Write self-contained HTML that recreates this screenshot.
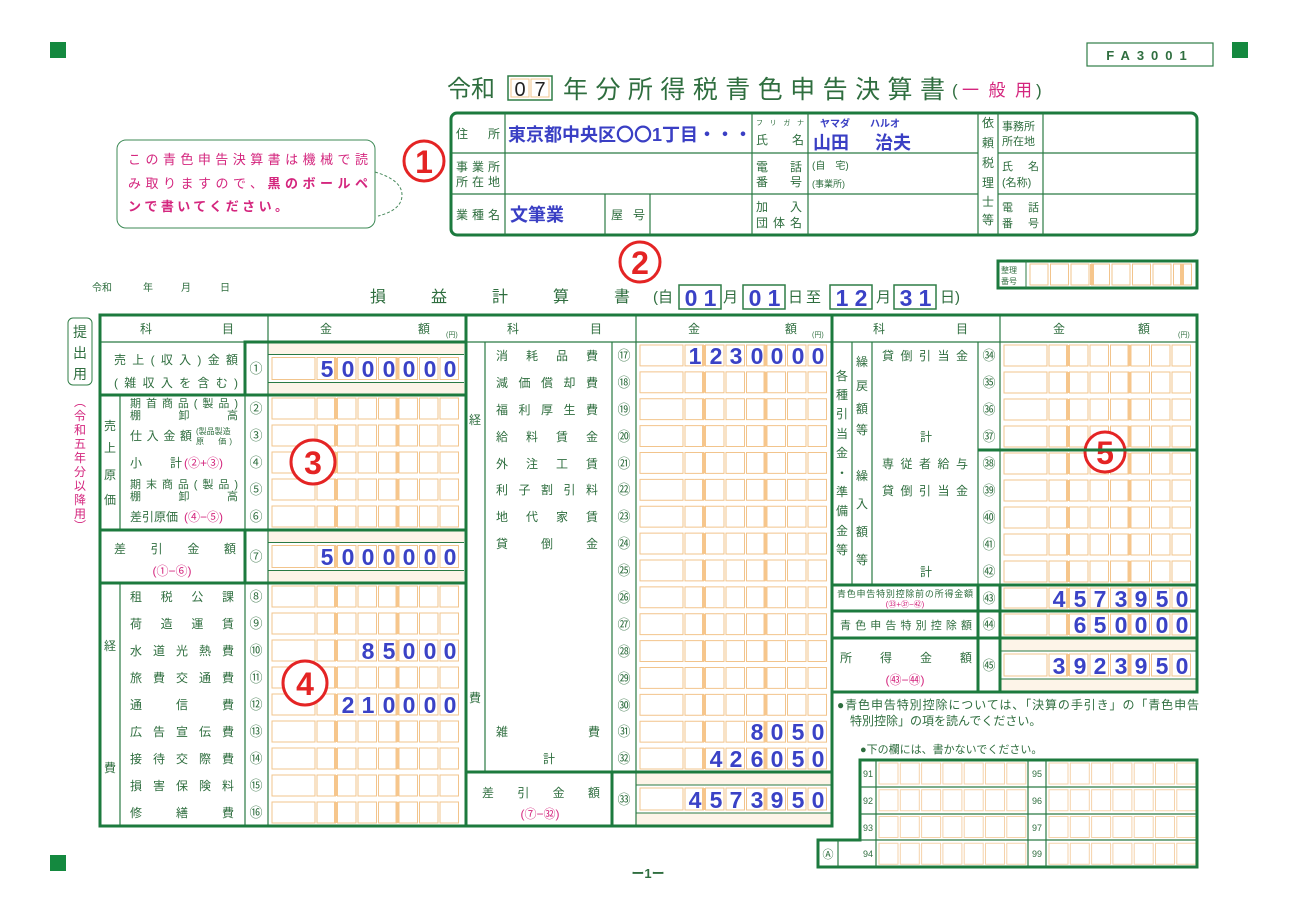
<!DOCTYPE html>
<html><head><meta charset="utf-8">
<style>
html,body{margin:0;padding:0;background:#fff;}
svg{display:block;}
text{font-family:"Liberation Sans","Noto Sans CJK JP",sans-serif;fill:#2f6e3f;}
.g{fill:#2f6e3f;font-size:12px;}
.pk{fill:#d4267e;}
.bl{fill:#3a3fc4;font-weight:bold;}
.dg{fill:#3a42c6;font-size:23px;font-weight:bold;text-anchor:middle;}
.red{fill:#e42424;font-weight:bold;}
.n{font-size:13px;text-anchor:middle;}
</style></head><body>
<svg id="s" width="1297" height="910" viewBox="0 0 1297 910" xmlns="http://www.w3.org/2000/svg">
<g id="cells"></g>
<rect x="50" y="42" width="16" height="16" fill="#14893f"/>
<rect x="1232" y="42" width="16" height="16" fill="#14893f"/>
<rect x="50" y="855" width="16" height="16" fill="#14893f"/>
<rect x="1087" y="43" width="126" height="23" fill="none" stroke="#2f7d46" stroke-width="1.2"/>
<text x="1150" y="60" font-size="13" text-anchor="middle" letter-spacing="7" font-weight="bold">FA3001</text>
<text x="447" y="97" font-size="24">令和</text>
<rect x="508" y="76" width="44" height="24" fill="#fff" stroke="#2f7d46" stroke-width="1.5"/>
<rect x="511" y="79" width="18" height="18" fill="none" stroke="#f2c48c"/>
<rect x="531" y="79" width="18" height="18" fill="none" stroke="#f2c48c"/>
<text x="520" y="96" font-size="20" text-anchor="middle" style="fill:#222">0</text>
<text x="540" y="96" font-size="20" text-anchor="middle" style="fill:#222">7</text>
<text x="563" y="98" font-size="25" textLength="382" lengthAdjust="spacing">年分所得税青色申告決算書</text>
<text x="952" y="96" font-size="17">(</text><text x="962" y="96" font-size="17" class="pk" textLength="70" lengthAdjust="spacing">一 般 用</text><text x="1036" y="96" font-size="17">)</text>

<rect x="451" y="113" width="746" height="122" rx="6" fill="none" stroke="#1c7a3e" stroke-width="3"/>
<g stroke="#2a7a44" stroke-width="1.2">
<line x1="451" y1="153" x2="978" y2="153"/><line x1="451" y1="194" x2="978" y2="194"/>
<line x1="998" y1="153" x2="1197" y2="153"/><line x1="998" y1="194" x2="1197" y2="194"/>
<line x1="505" y1="113" x2="505" y2="235"/><line x1="752" y1="113" x2="752" y2="235"/>
<line x1="808" y1="113" x2="808" y2="235"/><line x1="978" y1="113" x2="978" y2="235"/>
<line x1="998" y1="113" x2="998" y2="235"/><line x1="1043" y1="113" x2="1043" y2="235"/>
<line x1="605" y1="194" x2="605" y2="235"/><line x1="650" y1="194" x2="650" y2="235"/>
</g>
<text x="456" y="138" class="g" textLength="44" lengthAdjust="spacing">住　所</text>
<text x="508" y="141" font-size="18" class="bl">東京都中央区〇〇1丁目・・・</text>
<text x="756" y="125" font-size="7" textLength="48" lengthAdjust="spacing">フリガナ</text>
<text x="756" y="144" class="g" textLength="48" lengthAdjust="spacing">氏　名</text>
<text x="820" y="127" font-size="10" class="bl">ヤマダ</text>
<text x="870" y="127" font-size="10" class="bl">ハルオ</text>
<text x="813" y="149" font-size="18" class="bl">山田</text>
<text x="875" y="149" font-size="18" class="bl">治夫</text>
<text x="456" y="171" class="g" textLength="44" lengthAdjust="spacing">事業所</text>
<text x="456" y="186" class="g" textLength="44" lengthAdjust="spacing">所在地</text>
<text x="756" y="171" class="g" textLength="46" lengthAdjust="spacing">電　話</text>
<text x="756" y="186" class="g" textLength="46" lengthAdjust="spacing">番　号</text>
<text x="812" y="169" font-size="10">(自　宅)</text>
<text x="812" y="187" font-size="9">(事業所)</text>
<text x="456" y="219" class="g" textLength="44" lengthAdjust="spacing">業種名</text>
<text x="510" y="221" font-size="18" class="bl">文筆業</text>
<text x="611" y="219" class="g" textLength="34" lengthAdjust="spacing">屋　号</text>
<text x="756" y="211" class="g" textLength="46" lengthAdjust="spacing">加　入</text>
<text x="756" y="227" class="g" textLength="46" lengthAdjust="spacing">団体名</text>
<g font-size="12" text-anchor="middle"><text x="988" y="127">依</text><text x="988" y="147">頼</text><text x="988" y="167">税</text><text x="988" y="187">理</text><text x="988" y="206">士</text><text x="988" y="224">等</text></g>
<text x="1002" y="130" font-size="11">事務所</text><text x="1002" y="145" font-size="11">所在地</text>
<text x="1002" y="170" font-size="11" textLength="37" lengthAdjust="spacing">氏　名</text><text x="1002" y="186" font-size="11">(名称)</text>
<text x="1002" y="211" font-size="11" textLength="37" lengthAdjust="spacing">電　話</text><text x="1002" y="227" font-size="11" textLength="37" lengthAdjust="spacing">番　号</text>

<rect x="117" y="140" width="258" height="88" rx="9" fill="#fff" stroke="#3d8a56" stroke-width="1"/>
<path d="M375 172 Q402 180 402 195 Q402 210 378 216" fill="none" stroke="#4a8a5e" stroke-dasharray="3,2"/>
<text x="128" y="164" font-size="13" class="pk" textLength="240" lengthAdjust="spacing">この青色申告決算書は機械で読</text>
<text x="128" y="188" font-size="13" class="pk" textLength="240" lengthAdjust="spacing">み取りますので、<tspan font-weight="bold">黒のボールペ</tspan></text>
<text x="128" y="211" font-size="13" class="pk" font-weight="bold" textLength="160" lengthAdjust="spacing">ンで書いてください。</text>

<g fill="#fff" stroke="#e42424" stroke-width="3">
<circle cx="424" cy="161" r="20"/><circle cx="640" cy="262" r="20"/>
<circle cx="313" cy="462" r="22"/><circle cx="305" cy="683" r="22"/><circle cx="1105" cy="452" r="20"/>
</g>
<g class="red" font-size="32" text-anchor="middle">
<text x="424" y="173" class="red">1</text><text x="640" y="274" class="red">2</text>
<text x="313" y="474" class="red">3</text><text x="305" y="695" class="red">4</text><text x="1105" y="464" class="red">5</text>
</g>

<text x="92" y="291" font-size="10">令和</text><text x="143" y="291" font-size="10">年</text><text x="181" y="291" font-size="10">月</text><text x="220" y="291" font-size="10">日</text>
<text x="370" y="302" font-size="16" textLength="260" lengthAdjust="spacing">損益計算書</text>
<text x="653" y="302" font-size="15">(自</text>
<text x="723" y="302" font-size="15">月</text><text x="788" y="302" font-size="15">日</text><text x="806" y="302" font-size="15">至</text>
<text x="876" y="302" font-size="15">月</text><text x="940" y="302" font-size="15">日)</text>
<g fill="#fff" stroke="#2f7d46" stroke-width="1.5">
<rect x="679" y="285" width="42" height="24"/><rect x="743" y="285" width="42" height="24"/>
<rect x="830" y="285" width="42" height="24"/><rect x="894" y="285" width="42" height="24"/>
</g>
<g>
<text x="691" y="306" class="dg">0</text><text x="710" y="306" class="dg">1</text>
<text x="755" y="306" class="dg">0</text><text x="774" y="306" class="dg">1</text>
<text x="842" y="306" class="dg">1</text><text x="861" y="306" class="dg">2</text>
<text x="906" y="306" class="dg">3</text><text x="925" y="306" class="dg">1</text>
</g>
<rect x="998" y="261" width="199" height="27" fill="none" stroke="#1c7a3e" stroke-width="3"/>
<line x1="1026" y1="261" x2="1026" y2="288" stroke="#2f7d46"/>
<text x="1001" y="273" font-size="8">整理</text><text x="1001" y="284" font-size="8">番号</text>

<rect x="68" y="318" width="24" height="67" rx="5" fill="none" stroke="#2f7d46"/>
<g font-size="14" text-anchor="middle"><text x="80" y="337">提</text><text x="80" y="358">出</text><text x="80" y="379">用</text></g>
<g font-size="12" text-anchor="middle"><text x="80" y="406" class="pk">︵</text><text x="80" y="420" class="pk">令</text><text x="80" y="434" class="pk">和</text><text x="80" y="448" class="pk">五</text><text x="80" y="462" class="pk">年</text><text x="80" y="476" class="pk">分</text><text x="80" y="490" class="pk">以</text><text x="80" y="504" class="pk">降</text><text x="80" y="518" class="pk">用</text><text x="80" y="530" class="pk">︶</text></g>

<g stroke="#2a7a44" stroke-width="1.2" fill="none">
<line x1="100" y1="342" x2="1197" y2="342"/>
<line x1="245" y1="342" x2="245" y2="826"/><line x1="268" y1="315" x2="268" y2="826"/>
<line x1="612" y1="342" x2="612" y2="826"/><line x1="636" y1="315" x2="636" y2="826"/>
<line x1="978" y1="342" x2="978" y2="692"/><line x1="1000" y1="315" x2="1000" y2="692"/>
<line x1="120" y1="395" x2="120" y2="530"/><line x1="120" y1="583" x2="120" y2="826"/>
<line x1="485" y1="342" x2="485" y2="772"/>
<line x1="852" y1="342" x2="852" y2="585"/><line x1="872" y1="342" x2="872" y2="585"/>
</g>
<g stroke="#1c7a3e" stroke-width="3" fill="none">
<rect x="100" y="315" width="732" height="511"/>
<rect x="832" y="315" width="365" height="377"/>
<line x1="466" y1="315" x2="466" y2="826"/>
<rect x="245" y="342" width="221" height="53"/>
<line x1="100" y1="395" x2="466" y2="395"/>
<line x1="100" y1="530" x2="466" y2="530"/><line x1="100" y1="583" x2="466" y2="583"/>
<rect x="245" y="530" width="221" height="53"/>
<line x1="466" y1="772" x2="832" y2="772"/><rect x="612" y="772" width="220" height="54"/>
<line x1="978" y1="450" x2="1197" y2="450"/>
<line x1="832" y1="585" x2="1197" y2="585"/><line x1="832" y1="611" x2="1197" y2="611"/><line x1="832" y1="638" x2="1197" y2="638"/>
<line x1="978" y1="585" x2="978" y2="692"/><line x1="1000" y1="585" x2="1000" y2="692"/>
</g>

<g font-size="12">
<text x="140" y="333">科</text><text x="222" y="333">目</text><text x="320" y="333">金</text><text x="418" y="333">額</text><text x="446" y="337" font-size="7">(円)</text>
<text x="507" y="333">科</text><text x="590" y="333">目</text><text x="688" y="333">金</text><text x="785" y="333">額</text><text x="812" y="337" font-size="7">(円)</text>
<text x="873" y="333">科</text><text x="956" y="333">目</text><text x="1053" y="333">金</text><text x="1138" y="333">額</text><text x="1178" y="337" font-size="7">(円)</text>
</g>

<g font-size="12">
<text x="114" y="364" textLength="124" lengthAdjust="spacing">売上(収入)金額</text>
<text x="114" y="387" textLength="124" lengthAdjust="spacing">(雑収入を含む)</text>
<text x="130" y="407" font-size="11" textLength="108" lengthAdjust="spacing">期首商品(製品)</text>
<text x="130" y="419" font-size="11" textLength="108" lengthAdjust="spacing">棚卸高</text>
<text x="130" y="440" textLength="62" lengthAdjust="spacing">仕入金額</text>
<text x="196" y="434" font-size="8">(製品製造</text><text x="196" y="444" font-size="8" textLength="36" lengthAdjust="spacing">原　価)</text>
<text x="130" y="467">小</text><text x="170" y="467">計</text><text x="184" y="467" class="pk">(②+③)</text>
<text x="130" y="488" font-size="11" textLength="108" lengthAdjust="spacing">期末商品(製品)</text>
<text x="130" y="500" font-size="11" textLength="108" lengthAdjust="spacing">棚卸高</text>
<text x="130" y="521">差引原価</text><text x="184" y="521" class="pk">(④−⑤)</text>
<text x="114" y="553" textLength="122" lengthAdjust="spacing">差引金額</text>
<text x="172" y="575" text-anchor="middle" class="pk">(①−⑥)</text>
<text x="130" y="601" textLength="104" lengthAdjust="spacing">租税公課</text>
<text x="130" y="628" textLength="104" lengthAdjust="spacing">荷造運賃</text>
<text x="130" y="655" textLength="104" lengthAdjust="spacing">水道光熱費</text>
<text x="130" y="682" textLength="104" lengthAdjust="spacing">旅費交通費</text>
<text x="130" y="709" textLength="104" lengthAdjust="spacing">通信費</text>
<text x="130" y="736" textLength="104" lengthAdjust="spacing">広告宣伝費</text>
<text x="130" y="763" textLength="104" lengthAdjust="spacing">接待交際費</text>
<text x="130" y="790" textLength="104" lengthAdjust="spacing">損害保険料</text>
<text x="130" y="817" textLength="104" lengthAdjust="spacing">修繕費</text>
<g text-anchor="middle"><text x="110" y="430">売</text><text x="110" y="452">上</text><text x="110" y="479">原</text><text x="110" y="504">価</text>
<text x="110" y="650">経</text><text x="110" y="772">費</text>
<text x="475" y="424">経</text><text x="475" y="702">費</text></g>
</g>
<g class="n">
<text x="256" y="373">①</text><text x="256" y="413">②</text><text x="256" y="440">③</text><text x="256" y="467">④</text><text x="256" y="494">⑤</text><text x="256" y="521">⑥</text><text x="256" y="561">⑦</text>
<text x="256" y="601">⑧</text><text x="256" y="628">⑨</text><text x="256" y="655">⑩</text><text x="256" y="682">⑪</text><text x="256" y="709">⑫</text><text x="256" y="736">⑬</text><text x="256" y="763">⑭</text><text x="256" y="790">⑮</text><text x="256" y="817">⑯</text>
</g>

<g font-size="12">
<text x="496" y="360" textLength="102" lengthAdjust="spacing">消耗品費</text>
<text x="496" y="387" textLength="102" lengthAdjust="spacing">減価償却費</text>
<text x="496" y="414" textLength="102" lengthAdjust="spacing">福利厚生費</text>
<text x="496" y="441" textLength="102" lengthAdjust="spacing">給料賃金</text>
<text x="496" y="468" textLength="102" lengthAdjust="spacing">外注工賃</text>
<text x="496" y="494" textLength="102" lengthAdjust="spacing">利子割引料</text>
<text x="496" y="521" textLength="102" lengthAdjust="spacing">地代家賃</text>
<text x="496" y="548" textLength="102" lengthAdjust="spacing">貸倒金</text>
<text x="496" y="736">雑</text><text x="588" y="736">費</text>
<text x="543" y="763">計</text>
<text x="482" y="797" textLength="118" lengthAdjust="spacing">差引金額</text>
<text x="540" y="818" text-anchor="middle" class="pk">(⑦−㉜)</text>
</g>
<g class="n">
<text x="624" y="360">⑰</text><text x="624" y="387">⑱</text><text x="624" y="414">⑲</text><text x="624" y="441">⑳</text><text x="624" y="468">㉑</text><text x="624" y="494">㉒</text><text x="624" y="521">㉓</text><text x="624" y="548">㉔</text>
<text x="624" y="575">㉕</text><text x="624" y="602">㉖</text><text x="624" y="629">㉗</text><text x="624" y="656">㉘</text><text x="624" y="683">㉙</text><text x="624" y="710">㉚</text><text x="624" y="736">㉛</text><text x="624" y="763">㉜</text><text x="624" y="804">㉝</text>
</g>

<g font-size="12">
<text x="882" y="360" textLength="86" lengthAdjust="spacing">貸倒引当金</text>
<text x="920" y="441">計</text>
<text x="882" y="468" textLength="86" lengthAdjust="spacing">専従者給与</text>
<text x="882" y="495" textLength="86" lengthAdjust="spacing">貸倒引当金</text>
<text x="920" y="576">計</text>
<text x="837" y="597" font-size="9" textLength="136" lengthAdjust="spacing">青色申告特別控除前の所得金額</text>
<text x="905" y="607" font-size="8" text-anchor="middle" class="pk">(㉝+㊲−㊷)</text>
<text x="840" y="629" font-size="11" textLength="132" lengthAdjust="spacing">青色申告特別控除額</text>
<text x="840" y="662" textLength="132" lengthAdjust="spacing">所得金額</text>
<text x="905" y="684" text-anchor="middle" class="pk">(㊸−㊹)</text>
<g text-anchor="middle">
<text x="842" y="380">各</text><text x="842" y="399">種</text><text x="842" y="418">引</text><text x="842" y="438">当</text><text x="842" y="457">金</text><text x="842" y="477">・</text><text x="842" y="496">準</text><text x="842" y="515">備</text><text x="842" y="535">金</text><text x="842" y="554">等</text>
<text x="862" y="366">繰</text><text x="862" y="390">戻</text><text x="862" y="413">額</text><text x="862" y="434">等</text>
<text x="862" y="480">繰</text><text x="862" y="508">入</text><text x="862" y="536">額</text><text x="862" y="564">等</text>
</g>
</g>
<g class="n">
<text x="989" y="360">㉞</text><text x="989" y="387">㉟</text><text x="989" y="414">㊱</text><text x="989" y="441">㊲</text><text x="989" y="468">㊳</text><text x="989" y="495">㊴</text><text x="989" y="522">㊵</text><text x="989" y="549">㊶</text><text x="989" y="576">㊷</text>
<text x="989" y="603">㊸</text><text x="989" y="629">㊹</text><text x="989" y="670">㊺</text>
</g>

<g>
<text class="dg" x="327 348 368 389 409 430 450" y="377">5000000</text>
<text class="dg" x="327 348 368 389 409 430 450" y="565">5000000</text>
<text class="dg" x="368 389 409 430 450" y="659">85000</text>
<text class="dg" x="348 368 389 409 430 450" y="713">210000</text>
<text class="dg" x="695 716 736 757 777 798 818" y="364">1230000</text>
<text class="dg" x="757 777 798 818" y="740">8050</text>
<text class="dg" x="716 736 757 777 798 818" y="767">426050</text>
<text class="dg" x="695 716 736 757 777 798 818" y="808">4573950</text>
<text class="dg" x="1059 1080 1100 1121 1141 1162 1182" y="607">4573950</text>
<text class="dg" x="1080 1100 1121 1141 1162 1182" y="633">650000</text>
<text class="dg" x="1059 1080 1100 1121 1141 1162 1182" y="674">3923950</text>
</g>

<text x="837" y="709" font-size="12" textLength="362" lengthAdjust="spacing">●青色申告特別控除については、「決算の手引き」の「青色申告</text>
<text x="850" y="725" font-size="12">特別控除」の項を読んでください。</text>
<text x="860" y="753" font-size="11">●下の欄には、書かないでください。</text>
<g fill="none" stroke="#1c7a3e" stroke-width="3">
<path d="M860 760 H1197 V867 H818 V840 H860 Z"/>
</g>
<g stroke="#2a7a44" stroke-width="1.2">
<line x1="860" y1="787" x2="1197" y2="787"/><line x1="860" y1="814" x2="1197" y2="814"/><line x1="860" y1="840" x2="1197" y2="840"/>
<line x1="876" y1="760" x2="876" y2="867"/><line x1="1028" y1="760" x2="1028" y2="867"/><line x1="1046" y1="760" x2="1046" y2="867"/>
<line x1="838" y1="840" x2="838" y2="867"/>
</g>
<g font-size="9" text-anchor="middle">
<text x="868" y="777">91</text><text x="868" y="804">92</text><text x="868" y="831">93</text><text x="868" y="857">94</text>
<text x="1037" y="777">95</text><text x="1037" y="804">96</text><text x="1037" y="831">97</text><text x="1037" y="857">99</text>
<text x="828" y="858" font-size="11">Ⓐ</text>
</g>
<text x="648" y="878" font-size="13" text-anchor="middle" font-weight="bold">ー1ー</text>
</svg>
<script>
(function(){
var NS="http://www.w3.org/2000/svg",g=document.getElementById("cells");
function r(x,y,w,h,f,s){var e=document.createElementNS(NS,"rect");e.setAttribute("x",x);e.setAttribute("y",y);e.setAttribute("width",w);e.setAttribute("height",h);e.setAttribute("fill",f||"none");if(s){e.setAttribute("stroke",s);e.setAttribute("stroke-width","1");}g.appendChild(e);}
function amt(x0,y0,y1){var h=y1-y0,ch=Math.min(h-6,22),cy=y0+(h-ch)/2;
 if(h>40){r(x0,y0,196,h,"#fdf4e8");r(x0,cy-3,196,ch+6,"#fff");
  var l1=document.createElementNS(NS,"path");l1.setAttribute("d","M"+x0+" "+(cy-3)+"H"+(x0+196)+"M"+x0+" "+(cy+ch+3)+"H"+(x0+196));l1.setAttribute("stroke","#2a7a44");l1.setAttribute("stroke-width","1");g.appendChild(l1);}
 r(x0+4,cy,43,ch,"#fff","#f2c48c");
 for(var i=0;i<7;i++){r(x0+49+20.5*i,cy,18.5,ch,"#fff","#f2c48c");}
 r(x0+49+20.5-3.5,cy,4,ch,"#f6c68c");r(x0+49+20.5*4-3.5,cy,4,ch,"#f6c68c");
}
amt(268,342,395);var L=[395,422,449,476,503,530];for(var i=0;i<5;i++)amt(268,L[i],L[i+1]);
amt(268,530,583);for(i=0;i<9;i++)amt(268,583+27*i,610+27*i);
var mh=(772-342)/16;for(i=0;i<16;i++)amt(636,342+mh*i,342+mh*(i+1));amt(636,772,826);
for(i=0;i<9;i++)amt(1000,342+27*i,369+27*i);amt(1000,585,611);amt(1000,611,638);amt(1000,638,692);
for(var k=0;k<8;k++)r(1030+20.5*k,264,18,21,"#fff","#f2c48c");r(1090,264,4,21,"#f6c68c");r(1180,264,4,21,"#f6c68c");
for(var row=0;row<4;row++){var y=763+26.75*row;for(k=0;k<7;k++){r(879+21.3*k,y,19,21,"#fff","#f5d3ab");r(1049+21.3*k,y,19,21,"#fff","#f5d3ab");}}
})();
</script>
</body></html>
